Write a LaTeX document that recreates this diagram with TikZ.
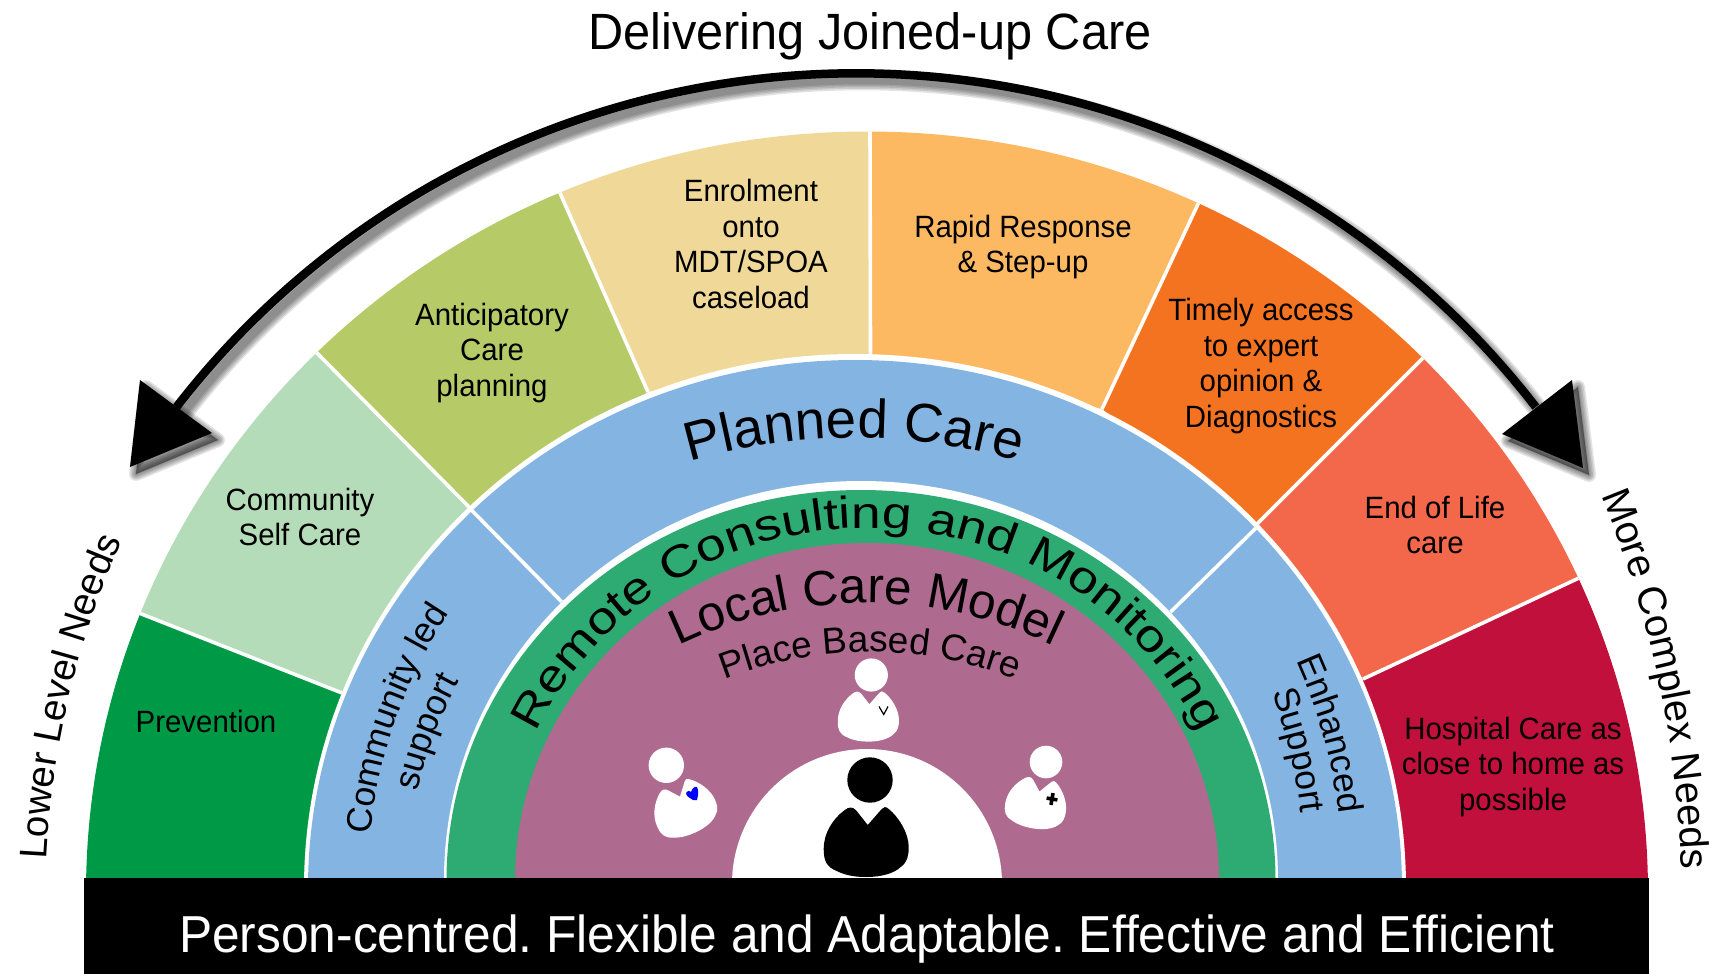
\documentclass[tikz,border=0pt]{standalone}
\usepackage{fontspec}
\setmainfont{Liberation Sans}
\newfontfamily\wideF[FakeStretch=1.2]{Liberation Sans}
\newfontfamily\bodyF[FakeStretch=0.955]{Liberation Sans}
\frenchspacing
\usetikzlibrary{calc,decorations.text}
\definecolor{cPrev}{HTML}{009A46}
\definecolor{cSelf}{HTML}{B5DCB9}
\definecolor{cAnti}{HTML}{B6CB68}
\definecolor{cEnro}{HTML}{EFD898}
\definecolor{cRapi}{HTML}{FDB962}
\definecolor{cTime}{HTML}{F47321}
\definecolor{cEnd}{HTML}{F3674A}
\definecolor{cHosp}{HTML}{C1103C}
\definecolor{cBlue}{HTML}{84B5E2}
\definecolor{cGreen}{HTML}{2EAB73}
\definecolor{cPurp}{HTML}{AF6A90}
\tikzset{
  divider/.style={draw=white,line width=3.6pt},
  sectorlabel/.style={font=\fontsize{30.8}{35.6}\bodyF,align=center,text=black,inner sep=0pt},
  arcshaft/.style={draw=black,line width=8.5pt},
}
% cx cy xr yr t1 t2 font text
\newcommand{\curvetext}[8]{%
  \path[decorate,decoration={text along path,text align=center,text={|#7|#8}}]
    ({#1+#3*cos(#5)},{#2-#4*sin(#5)}) arc[start angle=-#5,end angle=-#6,x radius=#3,y radius=#4];}
\newcommand{\bodyshape}{%
  (1,-22) -- (-10,-36) .. controls (-14,-41) and (-18,-40) .. (-22,-37)
  .. controls (-34,-28) and (-43,-14) .. (-43,2)
  .. controls (-43,14) and (-40,20) .. (-30,24)
  .. controls (-20,29) and (-10,30) .. (0,30)
  .. controls (15,30) and (28,26) .. (34,20)
  .. controls (41,15) and (42,8) .. (42,0)
  .. controls (42,-14) and (32,-30) .. (22,-38)
  .. controls (19,-41) and (17,-40) .. (15,-38) -- cycle}
\newcommand{\shd}[1]{([xshift=6pt,yshift=-7pt]#1)}
\begin{document}
\begin{tikzpicture}[x=1pt,y=-1pt]
\useasboundingbox (0,0) rectangle (1718,974);
% sector line end points
\coordinate (i1) at (342,693);  \coordinate (o1) at (139,613);
\coordinate (i2) at (469,507);  \coordinate (o2) at (317,353);
\coordinate (i3) at (648,392);  \coordinate (o3) at (560,193);
\coordinate (i4) at (870.5,354);\coordinate (o4) at (870,131.5);
\coordinate (i5) at (1102,409); \coordinate (o5) at (1199,202);
\coordinate (i6) at (1256,525); \coordinate (o6) at (1424,357);
\coordinate (i7) at (1363,679); \coordinate (o7) at (1579,578);
\begin{scope}
  \clip (867,893) ellipse [x radius=781,y radius=761.5];
  \fill[cPrev] (i1) -- ($(i1)!1.4!(o1)$) -- (0,900) -- (400,900) -- cycle;
  \fill[cSelf] (i1) -- ($(i1)!1.4!(o1)$) -- ($(i2)!1.4!(o2)$) -- (i2) -- cycle;
  \fill[cAnti] (i2) -- ($(i2)!1.4!(o2)$) -- ($(i3)!1.4!(o3)$) -- (i3) -- cycle;
  \fill[cEnro] (i3) -- ($(i3)!1.4!(o3)$) -- ($(i4)!1.4!(o4)$) -- (i4) -- cycle;
  \fill[cRapi] (i4) -- ($(i4)!1.4!(o4)$) -- ($(i5)!1.4!(o5)$) -- (i5) -- cycle;
  \fill[cTime] (i5) -- ($(i5)!1.4!(o5)$) -- ($(i6)!1.4!(o6)$) -- (i6) -- cycle;
  \fill[cEnd]  (i6) -- ($(i6)!1.4!(o6)$) -- ($(i7)!1.4!(o7)$) -- (i7) -- cycle;
  \fill[cHosp] (i7) -- ($(i7)!1.4!(o7)$) -- (1718,900) -- (1300,900) -- cycle;
  \foreach \n in {1,...,7}{\draw[divider] (i\n) -- ($(i\n)!1.1!(o\n)$);}
\end{scope}
% rings
\fill[white] (855,888) ellipse [x radius=551,y radius=534];
\fill[cBlue] (855,888) ellipse [x radius=547,y radius=528];
\draw[divider] (469.5,508) -- (561.6,601.7);
\draw[divider] (1256,528) -- (1170.5,612);
\fill[white] (861,880) ellipse [x radius=417,y radius=399];
\fill[cGreen] (861,880) ellipse [x radius=414.5,y radius=390];
\fill[cPurp] (867,880) ellipse [x radius=352,y radius=337];
\fill[white] (867,884) ellipse [x radius=135,y radius=135];
% persons
\begin{scope}[shift={(866.7,847)}]
  \fill[black] (3.3,-67) circle [radius=22.7];
  \fill[black] \bodyshape;
\end{scope}
\fill[white] (871.3,675) circle [radius=16.6];
\begin{scope}[shift={(868.7,720)},scale=.72]
  \fill[white] \bodyshape;
\end{scope}
\draw[black,line width=1.2pt] (879,706.5) -- (883.7,714.5) -- (888,706.5);
\fill[white] (666.3,765.3) circle [radius=17.7];
\begin{scope}[shift={(686,812)},rotate=24,scale=.75]
  \fill[white] \bodyshape;
\end{scope}
\fill[blue] (693,800) .. controls (688,797) and (685,795) .. (686.5,792) .. controls (688,790) and (690,791) .. (691,792) .. controls (692,789) and (694,786) .. (697,787) .. controls (699,790) and (698,796) .. (697,800) -- cycle;
\fill[white] (1046,762) circle [radius=16.3];
\begin{scope}[shift={(1036,807)},rotate=-10,scale=.72]
  \fill[white] \bodyshape;
\end{scope}
\draw[black,line width=3.6pt,rotate around={-10:(1052,799)}] (1052,793) -- (1052,805) (1046.5,799) -- (1057.5,799);
% black bar
\fill[black] (84,878) rectangle (1649,974);
% sector labels
\node[sectorlabel] (lPrev) at (206,721) {Prevention};
\node[sectorlabel] (lSelf) at (300,517) {Community\\Self Care};
\node[sectorlabel] (lAnti) at (492,353) {Anticipatory\\Care\\planning};
\node[sectorlabel] (lEnro) at (751,244) {Enrolment\\onto\\MDT/SPOA\\caseload};
\node[sectorlabel] (lRapi) at (1023,247) {Rapid Response\\\& Step-up};
\node[sectorlabel] (lTime) at (1261,366) {Timely access\\to expert\\opinion \&\\Diagnostics};
\node[sectorlabel] (lEnd) at (1435,525) {End of Life\\care};
\node[sectorlabel] (lHosp) at (1513,767) {Hospital Care as\\close to home as\\possible};
\node[font=\fontsize{51}{54}\bodyF,inner sep=0pt] (title) at (870,36) {Delivering Joined-up Care};
\node[font=\fontsize{52}{54}\bodyF,text=white,inner sep=0pt] (bar) at (867,939) {Person-centred. Flexible and Adaptable. Effective and Efficient};
% curved labels
\curvetext{854}{1018}{580}{580}{125}{55}{\fontsize{54.5}{60}\selectfont}{Planned Care}
\curvetext{868}{880}{365}{352}{175}{5}{\fontsize{44.5}{50}\wideF}{Remote Consulting and Monitoring}
\curvetext{866}{1036}{433}{433}{135}{45}{\fontsize{49.5}{54}\selectfont}{Local Care Model}
\curvetext{870}{1053}{401}{401}{130}{50}{\fontsize{37}{40}\selectfont}{Place Based Care}
\curvetext{867}{880}{499}{486.6}{179.7}{141.7}{\fontsize{35.6}{36}\selectfont}{Community led}
\curvetext{867}{880}{459}{432}{178}{143}{\fontsize{35.6}{36}\selectfont}{support}
\curvetext{860}{880}{483}{510}{32}{1}{\fontsize{35.6}{36}\selectfont}{Enhanced}
\curvetext{860}{880}{445}{497}{30}{0}{\fontsize{35.6}{36}\selectfont}{Support}
\curvetext{867}{904}{822}{860}{181}{151}{\fontsize{38.5}{42}\selectfont}{Lower Level Needs}
\curvetext{867}{904}{815}{940}{30}{-2}{\fontsize{39.8}{42}\selectfont}{More Complex Needs}
% arrow
\coordinate (aL) at (176.5,407);
\coordinate (aR) at (1536.5,407);
\coordinate (hL1) at (140,380); \coordinate (hL2) at (212,433); \coordinate (hLt) at (130,467);
\coordinate (hR1) at (1572,380); \coordinate (hR2) at (1502,434); \coordinate (hRt) at (1583,468);
\foreach \w in {14,11,8,5,2}{
  \draw[black,opacity=.11,line width=6pt+\w pt] \shd{aL} arc[start angle=-142.3,end angle=-37.7,radius=859];
  \fill[black,opacity=.11,draw=black,line width=\w pt,line join=round] \shd{hL1} -- \shd{hL2} -- \shd{hLt} -- cycle;
  \fill[black,opacity=.11,draw=black,line width=\w pt,line join=round] \shd{hR1} -- \shd{hR2} -- \shd{hRt} -- cycle;
}
\draw[arcshaft] (aL) arc[start angle=-142.3,end angle=-37.7,radius=859];
\fill[black] (hL1) -- (hL2) -- (hLt) -- cycle;
\fill[black] (hR1) -- (hR2) -- (hRt) -- cycle;
\end{tikzpicture}
\end{document}
